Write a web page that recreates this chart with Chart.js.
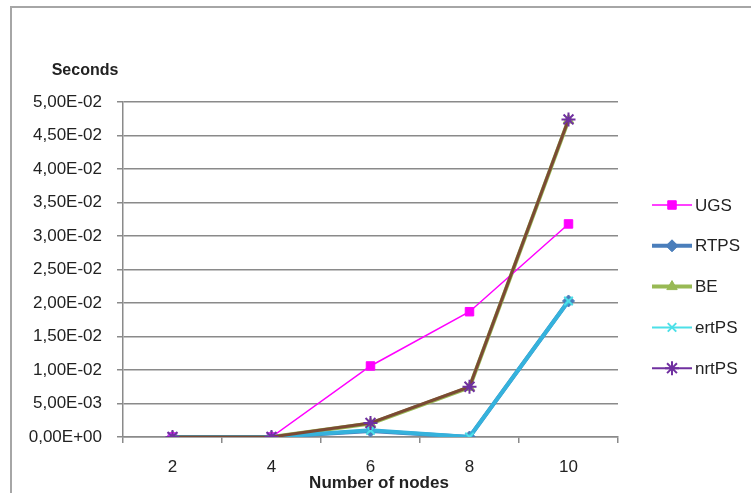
<!DOCTYPE html>
<html>
<head>
<meta charset="utf-8">
<script src="https://cdn.jsdelivr.net/npm/chart.js@4/dist/chart.umd.min.js"></script>
<style>
  html, body { margin: 0; padding: 0; background: #fff; }
  #wrap { width: 751px; height: 493px; position: relative; }
</style>
</head>
<body>
<div id="wrap"><canvas id="chart" width="751" height="493"></canvas></div>
<script>
// data
const nodes = ['2', '4', '6', '8', '10'];
const ugs   = [0, 0, 0.0106, 0.0187, 0.0318];
const rtps  = [0, 0, 0.0009, 0, 0.0203];
const be    = [0, 0, 0.0020, 0.0074, 0.0473];
const ertps = [0, 0, 0.0010, 0, 0.0203];
const nrtps = [0, 0, 0.0021, 0.0075, 0.0474];
const seriesNames = ['UGS', 'RTPS', 'BE', 'ertPS', 'nrtPS'];

const FONT = "'Liberation Sans', Arial, sans-serif";

// 5.00E-02 style with comma
function sci(v) {
    if (Math.abs(v) < 1e-12) return '0,00E+00';
    let exp = Math.floor(Math.log10(Math.abs(v)) + 1e-9);
    let mant = v / Math.pow(10, exp);
    let e = Math.abs(exp);
    return mant.toFixed(2).replace('.', ',') + 'E' + (exp < 0 ? '-' : '+') + (e < 10 ? '0' + e : e);
}

// how each series looks in the legend (line part)
const legendStyle = {
    UGS:   { color: '#ff00ff', width: 1.5 },
    RTPS:  { color: '#4a7ebb', width: 4 },
    BE:    { color: '#98b954', width: 4 },
    ertPS: { color: '#4ce0e8', width: 2 },
    nrtPS: { color: '#7030a0', width: 2 }
};

const frame = {
    id: 'frame',
    beforeDraw(chart) {
        const ctx = chart.ctx;
        ctx.save();
        ctx.fillStyle = '#fff';
        ctx.fillRect(0, 0, chart.width, chart.height);
        ctx.strokeStyle = '#a6a6a6';
        ctx.lineWidth = 2;
        ctx.beginPath();
        ctx.moveTo(11, 493);
        ctx.lineTo(11, 7);
        ctx.lineTo(751, 7);
        ctx.stroke();
        ctx.restore();
    },
    afterDraw(chart) {
        const ctx = chart.ctx;
        ctx.save();
        ctx.fillStyle = '#222';
        ctx.textAlign = 'center';
        ctx.textBaseline = 'middle';
        ctx.font = 'bold 16px ' + FONT;
        ctx.fillText('Seconds', 85, 71);
        ctx.font = 'bold 17px ' + FONT;
        ctx.fillText('Number of nodes', 379, 483);

        // legend: line + marker + text
        ctx.font = '17px ' + FONT;
        ctx.textAlign = 'left';
        seriesNames.forEach((name, i) => {
            const ds = chart.data.datasets.find(d => d.label === name);
            const st = legendStyle[name];
            const y = 205 + i * 40.8;
            ctx.strokeStyle = st.color;
            ctx.lineWidth = st.width;
            ctx.beginPath();
            ctx.moveTo(652, y);
            ctx.lineTo(692, y);
            ctx.stroke();
            ctx.fillStyle = ds.pointBackgroundColor;
            ctx.strokeStyle = ds.pointBorderColor;
            ctx.lineWidth = ds.pointBorderWidth;
            Chart.helpers.drawPoint(ctx, {
                pointStyle: ds.pointStyle,
                radius: ds.pointRadius,
                rotation: 0,
                borderWidth: ds.pointBorderWidth
            }, 672, y);
            ctx.fillStyle = '#222';
            ctx.fillText(name, 695, y + 1);
        });
        ctx.restore();
    }
};

new Chart(document.getElementById('chart'), {
    type: 'line',
    data: {
        labels: nodes,
        datasets: [
            {
                label: 'nrtPS', data: nrtps, order: 1,
                borderColor: '#7b4a34', borderWidth: 3,
                pointStyle: 'star', pointRadius: 7, pointBorderWidth: 2,
                pointBorderColor: '#7030a0', pointBackgroundColor: '#7030a0'
            },
            {
                label: 'ertPS', data: ertps, order: 2,
                borderColor: '#35b2dc', borderWidth: 4,
                pointStyle: 'crossRot', pointRadius: 6, pointBorderWidth: 2,
                pointBorderColor: '#4ce0e8', pointBackgroundColor: '#4ce0e8'
            },
            {
                label: 'UGS', data: ugs, order: 3,
                borderColor: '#ff00ff', borderWidth: 1.5,
                pointStyle: 'rect', pointRadius: 6, pointBorderWidth: 1,
                pointBorderColor: '#ff00ff', pointBackgroundColor: '#ff00ff'
            },
            {
                label: 'BE', data: be, order: 4,
                borderColor: '#98b954', borderWidth: 4,
                pointStyle: 'triangle', pointRadius: 6, pointBorderWidth: 1,
                pointBorderColor: '#98b954', pointBackgroundColor: '#98b954'
            },
            {
                label: 'RTPS', data: rtps, order: 5,
                borderColor: '#4a7ebb', borderWidth: 4,
                pointStyle: 'rectRot', pointRadius: 6, pointBorderWidth: 1,
                pointBorderColor: '#4a7ebb', pointBackgroundColor: '#4a7ebb'
            }
        ]
    },
    options: {
        responsive: false,
        animation: false,
        tension: 0,
        layout: { padding: { top: 102, right: 133, left: 0, bottom: 0 } },
        plugins: {
            legend: { display: false },
            tooltip: { enabled: false }
        },
        scales: {
            x: {
                offset: true,
                afterFit(s) { s.height = 56; },
                grid: {
                    offset: true,
                    drawOnChartArea: false,
                    tickLength: 6,
                    color: '#8a8a8a',
                    lineWidth: 1.5
                },
                border: { color: '#8a8a8a', width: 1.5 },
                ticks: {
                    color: '#222',
                    padding: 14,
                    font: { family: FONT, size: 17 }
                }
            },
            y: {
                min: 0,
                max: 0.05,
                afterFit(s) { s.width = 123; },
                grid: {
                    color: '#8a8a8a',
                    lineWidth: 1.5,
                    tickLength: 6
                },
                border: { color: '#8a8a8a', width: 1.5 },
                ticks: {
                    stepSize: 0.005,
                    color: '#222',
                    padding: 15,
                    font: { family: FONT, size: 17 },
                    callback: v => sci(v)
                }
            }
        }
    },
    plugins: [frame]
});
</script>
</body>
</html>
